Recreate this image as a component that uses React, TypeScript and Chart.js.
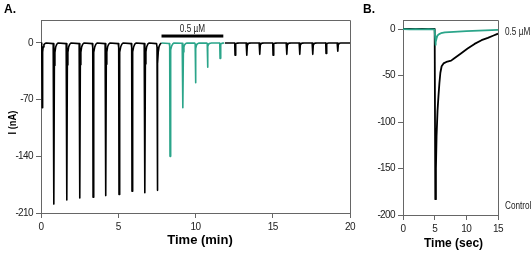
import React, { useEffect, useRef } from "react";
import { Chart, registerables } from "chart.js";

Chart.register(...registerables);

const NARROW = "'Liberation Sans Narrow', 'Arial Narrow', 'Liberation Sans', Arial, sans-serif";
const SANS = "'Liberation Sans', Arial, Helvetica, sans-serif";
const TEAL = "#2BA58A";
const AXIS = "#666666";

// ---------- Panel A: time course (minutes) ----------
const aXTicks = [0, 5, 10, 15, 20];
const aYTicks = [-210, -140, -70, 0];
// spike onset times (min) and peak currents (nA)
const controlSpikeTimes = [0.08, 0.84, 1.68, 2.52, 3.37, 4.2, 5.05, 5.89, 6.73, 7.53];
const controlSpikePeaks = [-80, -199, -194, -191.5, -190.5, -188.5, -187, -183, -185, -182];
const drugSpikeTimes = [8.35, 9.19, 10.0, 10.78, 11.59];
const drugSpikePeaks = [-140, -80, -49, -30, -19];
const washSpikeTimes = [12.56, 13.33, 14.17, 15.02, 15.92, 16.76, 17.6, 18.45, 19.22];
const washSpikePeaks = [-15, -15, -14, -15, -14, -14, -14, -13, -10];
// shape of one spike: time offset (min) and fraction of the peak
const spikeShapeDt = [-0.05, -0.02, 0, 0.025, 0.06, 0.11, 0.18, 0.26];
const spikeShapeFrac = [0.004, 0.03, 1, 0.14, 0.06, 0.025, 0.008, 0];
// segments (min)
const controlEnd = 7.78;
const drugStart = 7.78;
const drugEnd = 11.9;
const washEnd = 20;
// application bar
const barStart = 7.8;
const barEnd = 11.8;
const barLevel = 8.6;
const barLabel = "0.5 µM";

// ---------- Panel B: single responses (seconds) ----------
const bXTicks = [0, 5, 10, 15];
const bYTicks = [-200, -150, -100, -50, 0];
const bControlTime = [0, 2, 4, 5.0, 5.1, 5.2, 5.3, 5.45, 5.6, 5.75, 5.9, 6.1, 6.4, 7.0, 7.6, 8.0, 9.2, 10.2, 11.3, 12.4, 13.4, 14.3, 15];
const bControlCurrent = [0, 0, 0, 0, -183, -150, -115, -88, -72, -58, -47, -40, -37, -35, -34, -32, -26, -21, -16, -12, -9.5, -7, -5];
const bDrugTime = [0, 1, 2, 3, 4, 4.98, 5.06, 5.12, 5.2, 5.3, 5.45, 5.7, 6.0, 6.6, 8.0, 10.0, 12.0, 15.0];
const bDrugCurrent = [-0.2, -0.4, -0.1, -0.3, -0.2, -0.4, -8, -17, -14, -10, -7, -5.5, -4.5, -3.5, -3, -2.3, -1.8, -1];

type Pt = { x: number; y: number };

function buildSegment(start: number, end: number, times: number[], peaks: number[]): Pt[] {
  const pts: Pt[] = [{ x: start, y: 0 }];
  times.forEach((t0, i) => {
    spikeShapeDt.forEach((dt, k) => {
      const x = t0 + dt;
      if (x > start && x < end) pts.push({ x, y: peaks[i] * spikeShapeFrac[k] });
    });
  });
  pts.push({ x: end, y: 0 });
  return pts;
}

function zip(xs: number[], ys: number[]): Pt[] {
  return xs.map((x, i) => ({ x, y: ys[i] }));
}

// draw narrow-looking text by compressing horizontally
function narrowText(ctx: any, text: string, x: number, y: number, align: string, squeeze = 0.82) {
  ctx.save();
  ctx.translate(x, y);
  ctx.scale(squeeze, 1);
  ctx.textAlign = align;
  ctx.fillText(text, 0, 0);
  ctx.restore();
}

const boxPlugin = {
  id: "boxLines",
  beforeDraw(chart: any) {
    chart.ctx.letterSpacing = "-0.6px";
  },
  afterDraw(chart: any) {
    const { ctx, chartArea } = chart;
    ctx.letterSpacing = "0px";
    const { left, right, top, bottom } = chartArea;
    ctx.save();
    ctx.strokeStyle = AXIS;
    ctx.lineWidth = 1;
    ctx.beginPath();
    ctx.moveTo(Math.round(left), Math.round(top) + 0.5);
    ctx.lineTo(Math.round(right) + 0.5, Math.round(top) + 0.5);
    ctx.lineTo(Math.round(right) + 0.5, Math.round(bottom));
    ctx.stroke();
    ctx.restore();
  },
};

function axisCommon(extra: any) {
  return {
    type: "linear",
    grid: { display: true, drawOnChartArea: false, drawTicks: true, tickLength: 5, color: AXIS, lineWidth: 1 },
    border: { display: true, color: AXIS, width: 1 },
    ticks: { font: { family: NARROW, size: 10 }, color: "#222", padding: 3, maxRotation: 0, autoSkip: false },
    ...extra,
  };
}

export default function App() {
  const refA = useRef<HTMLCanvasElement | null>(null);
  const refB = useRef<HTMLCanvasElement | null>(null);

  useEffect(() => {
    const extrasA = {
      id: "extrasA",
      afterDraw(chart: any) {
        const { ctx, scales } = chart;
        const xs = scales.x;
        const ys = scales.y;
        ctx.save();
        ctx.fillStyle = "#000";
        ctx.font = `bold 12px ${SANS}`;
        ctx.textAlign = "left";
        ctx.textBaseline = "alphabetic";
        ctx.fillText("A.", 4, 13);
        // x title
        ctx.font = `bold 13px ${SANS}`;
        ctx.textAlign = "center";
        ctx.textBaseline = "middle";
        ctx.fillText("Time (min)", 200, 240);
        ctx.textBaseline = "alphabetic";
        // y title
        ctx.save();
        ctx.translate(16, 122.5);
        ctx.rotate(-Math.PI / 2);
        ctx.font = `bold 11px ${NARROW}`;
        narrowText(ctx, "I (nA)", 0, 0, "center", 0.85);
        ctx.restore();
        // application bar
        const x1 = xs.getPixelForValue(barStart);
        const x2 = xs.getPixelForValue(barEnd);
        const yb = ys.getPixelForValue(barLevel);
        ctx.fillRect(x1, yb - 1.5, x2 - x1, 3);
        ctx.font = `10px ${NARROW}`;
        ctx.fillStyle = "#222";
        narrowText(ctx, barLabel, (x1 + x2) / 2, yb - 4, "center");
        ctx.restore();
      },
    };

    const chartA = new Chart(refA.current as HTMLCanvasElement, {
      type: "line",
      data: {
        datasets: [
          { data: buildSegment(0, controlEnd, controlSpikeTimes, controlSpikePeaks), borderColor: "#000", borderWidth: 1.6 },
          { data: buildSegment(drugStart, drugEnd, drugSpikeTimes, drugSpikePeaks), borderColor: TEAL, borderWidth: 1.6 },
          { data: buildSegment(drugEnd, washEnd, washSpikeTimes, washSpikePeaks), borderColor: "#000", borderWidth: 1.6 },
        ],
      },
      options: {
        animation: false,
        responsive: false,
        devicePixelRatio: 1,
        layout: { padding: { left: 0, right: 10, top: 20, bottom: 0 } },
        elements: { point: { radius: 0 }, line: { tension: 0, borderJoinStyle: "round" } },
        plugins: { legend: { display: false }, tooltip: { enabled: false } },
        scales: {
          x: axisCommon({
            min: 0,
            max: 20,
            afterFit: (s: any) => { s.height = 42; },
            afterBuildTicks: (s: any) => { s.ticks = aXTicks.map((v) => ({ value: v })); },
          }),
          y: axisCommon({
            min: -210,
            max: 28.4,
            afterFit: (s: any) => { s.width = 41; },
            afterBuildTicks: (s: any) => { s.ticks = aYTicks.map((v) => ({ value: v })); },
          }),
        },
      } as any,
      plugins: [boxPlugin, extrasA],
    });

    const extrasB = {
      id: "extrasB",
      afterDraw(chart: any) {
        const { ctx, scales, chartArea } = chart;
        ctx.save();
        ctx.fillStyle = "#000";
        ctx.font = `bold 12px ${SANS}`;
        ctx.textAlign = "left";
        ctx.fillText("B.", 3, 13);
        // x title
        ctx.textAlign = "center";
        ctx.textBaseline = "middle";
        ctx.fillText("Time (sec)", (chartArea.left + chartArea.right) / 2 + 3, 244);
        ctx.font = `10px ${NARROW}`;
        ctx.fillStyle = "#222";
        const xr = chartArea.right + 7;
        narrowText(ctx, barLabel, xr, scales.y.getPixelForValue(-3.5), "left");
        narrowText(ctx, "Control", xr, scales.y.getPixelForValue(-190.5), "left");
        ctx.restore();
      },
    };

    const chartB = new Chart(refB.current as HTMLCanvasElement, {
      type: "line",
      data: {
        datasets: [
          { data: zip(bDrugTime, bDrugCurrent), borderColor: TEAL, borderWidth: 1.8 },
          { data: zip(bControlTime, bControlCurrent), borderColor: "#000", borderWidth: 1.8 },
        ],
      },
      options: {
        animation: false,
        responsive: false,
        devicePixelRatio: 1,
        layout: { padding: { left: 0, right: 34, top: 20, bottom: 0 } },
        elements: { point: { radius: 0 }, line: { tension: 0, borderJoinStyle: "round" } },
        plugins: { legend: { display: false }, tooltip: { enabled: false } },
        scales: {
          x: axisCommon({
            min: 0,
            max: 15,
            afterFit: (s: any) => { s.height = 40; },
            afterBuildTicks: (s: any) => { s.ticks = bXTicks.map((v) => ({ value: v })); },
          }),
          y: axisCommon({
            min: -200,
            max: 9.7,
            afterFit: (s: any) => { s.width = 43; },
            afterBuildTicks: (s: any) => { s.ticks = bYTicks.map((v) => ({ value: v })); },
          }),
        },
      } as any,
      plugins: [boxPlugin, extrasB],
    });

    return () => {
      chartA.destroy();
      chartB.destroy();
    };
  }, []);

  return (
    <div style={{ position: "fixed", left: 0, top: 0, width: 532, height: 255, background: "#fff" }}>
      <canvas ref={refA} width={360} height={255} style={{ position: "absolute", left: 0, top: 0, width: 360, height: 255 }} />
      <canvas ref={refB} width={172} height={255} style={{ position: "absolute", left: 360, top: 0, width: 172, height: 255 }} />
    </div>
  );
}
